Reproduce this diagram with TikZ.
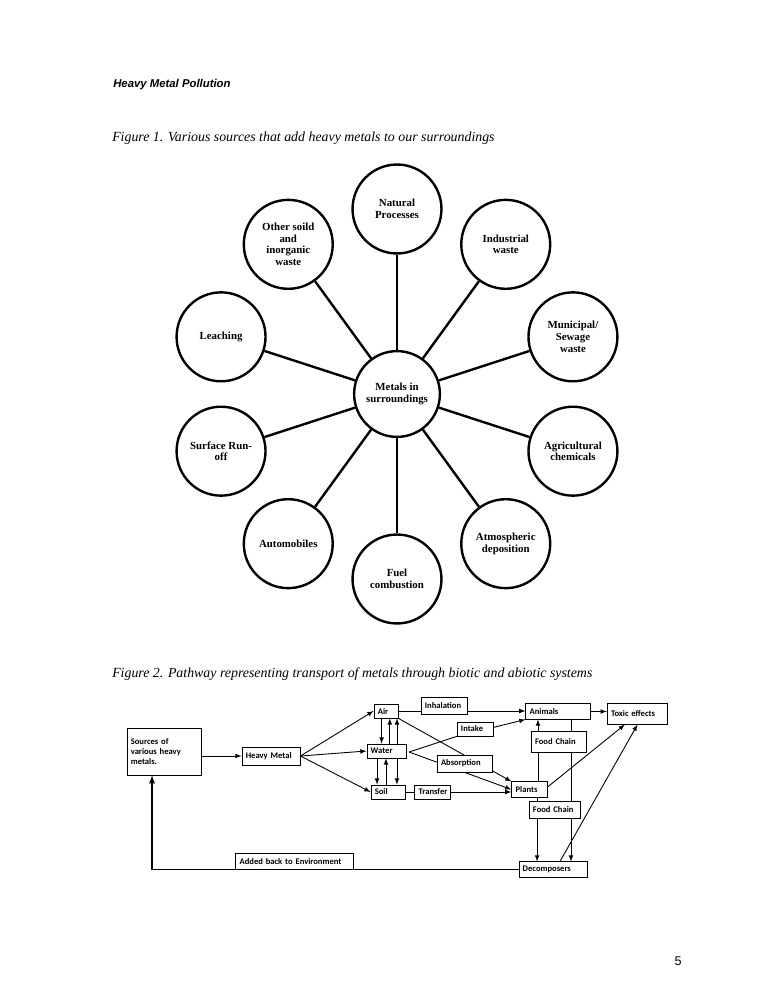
\documentclass[tikz,border=0pt]{standalone}
\usepackage{fontspec}
\setmainfont{Liberation Serif}
\newfontfamily\hdfont{Liberation Sans}
\newfontfamily\boxfont[WordSpace=0.8]{Carlito}
\usetikzlibrary{calc}
\pgfdeclarelayer{bg}
\pgfsetlayers{bg,main}
\tikzset{
  hubnode/.style={draw, circle, line width=1.9pt, minimum size=68pt, inner sep=0pt, align=center,
    font=\fontsize{8.6}{9.3}\selectfont\bfseries},
  srcnode/.style={hubnode, minimum size=70.5pt},
  spoke/.style={line width=1.9pt},
  box/.style={draw, fill=white, line width=0.7pt, inner xsep=3pt, inner ysep=0pt, align=left,
    font=\boxfont\fontsize{6.8}{7.6}\selectfont\bfseries},
  bs/.style 2 args={text width=#1, minimum height=#2},
  link/.style={line width=0.7pt},
}
\begin{document}
\begin{tikzpicture}[x=0.7927pt, y=-0.7927pt]
\useasboundingbox (0,0) rectangle (772,1000);

% headings
\node[anchor=base west, inner sep=0, font=\hdfont\fontsize{9}{11}\selectfont\bfseries\itshape] (hdr) at (113,88) {Heavy Metal Pollution};
\node[anchor=base west, inner sep=0, font=\fontsize{11}{13}\selectfont\itshape] (cap1) at (112,142) {Figure 1. Various sources that add heavy metals to our surroundings};
\node[anchor=base west, inner sep=0, font=\fontsize{11}{13}\selectfont\itshape] (cap2) at (112,677) {Figure 2. Pathway representing transport of metals through biotic and abiotic systems};
\node[anchor=base, inner sep=0, font=\hdfont\fontsize{10}{12}\selectfont] (pg) at (678,965) {5};

% figure 1
\node[hubnode] (hub) at (397,394) {Metals in\\surroundings};
\foreach \a/\txt [count=\i] in {-90/{Natural\\Processes}, -54/{Industrial\\waste}, -18/{Municipal/\\Sewage\\waste},
  18/{Agricultural\\chemicals}, 54/{Atmospheric\\deposition}, 90/{Fuel\\combustion}, 126/{Automobiles},
  162/{Surface Run-\\off}, 198/{Leaching}, 234/{Other soild\\and\\inorganic\\waste}}
  \node[srcnode] (s\i) at ($(hub)+(\a:185)$) {\txt};
\foreach \i in {1,...,10}
  \draw[spoke] (hub) -- (s\i);

% figure 2
\node[box, bs={52.6pt}{37.2pt}] (srcs) at (164,751.5) {Sources of\\various heavy\\metals.};
\node[box, bs={40pt}{14.3pt}] (hm) at (271,756) {Heavy Metal};
\node[box, bs={13pt}{11pt}] (air) at (386,711) {Air};
\node[box, bs={25pt}{11pt}] (water) at (386.5,751) {Water};
\node[box, bs={21pt}{11pt}] (soil) at (388,792) {Soil};
\node[box, bs={31pt}{14pt}] (inhal) at (444.5,706) {Inhalation};
\node[box, bs={23pt}{11pt}] (intake) at (475.5,729) {Intake};
\node[box, bs={38pt}{13.5pt}] (absorb) at (465,763.5) {Absorption};
\node[box, bs={22pt}{11pt}] (transfer) at (432.5,792) {Transfer};
\node[box, bs={45pt}{12pt}] (animals) at (558,711.5) {Animals};
\node[box, bs={42pt}{16pt}] (toxic) at (637.5,714) {Toxic effects};
\node[box, bs={38pt}{16pt}] (fc1) at (559,742) {Food Chain};
\node[box, bs={22pt}{12pt}] (plants) at (529.5,789.5) {Plants};
\node[box, bs={35pt}{13pt}] (fc2) at (555,810) {Food Chain};
\node[box, bs={48pt}{12pt}] (decomp) at (553,869.5) {Decomposers};
\node[box, bs={87pt}{13pt}, anchor=south] (added) at (294.5,870) {Added back to Environment};
\coordinate (wv) at (409,752);

\begin{pgfonlayer}{bg}
\draw[link,-latex] (srcs.east |- hm) -- (hm);
\foreach \t in {air,water,soil}
  \draw[link,-latex] (hm.east) -- (\t.west);
\draw[link,-latex] ([xshift=-3.5pt]air.south) -- ([xshift=-3.5pt]air.south |- water.north);
\draw[link,-latex] ([xshift=3pt]air.south |- water.north) -- ([xshift=3pt]air.south);
\draw[link,latex-latex] ([xshift=8.7pt]air.south) -- ([xshift=8.7pt]air.south |- soil.north);
\draw[link,-latex] ([xshift=-7.5pt]water.south) -- ([xshift=-7.5pt]water.south |- soil.north);
\draw[link,-latex] ([xshift=-0.4pt]water.south |- soil.north) -- ([xshift=-0.4pt]water.south);
\draw[link,-latex] (air.east) -- (air.east -| animals.west);
\draw[link,-latex] (wv) -- (intake.south west) -- (animals.south west);
\draw[link,-latex] (wv) -- (plants.west);
\draw[link,-latex] (air.south east) -- (plants.north west);
\draw[link,-latex] (soil.east) -- (soil.east -| plants.west);
\draw[link,-latex] ([xshift=6.7pt]plants.north) -- ([xshift=6.7pt]plants.north |- animals.south);
\draw[link,-latex] ([xshift=10.3pt]animals.south) -- ([xshift=10.3pt]animals.south |- decomp.north);
\draw[link,-latex] ([xshift=6pt]plants.south) -- ([xshift=6pt]plants.south |- decomp.north);
\draw[link,-latex] ([yshift=2pt]plants.east) -- ([xshift=-10pt]toxic.south);
\draw[link,-latex] ([xshift=5.5pt]decomp.north) -- (toxic.south);
\draw[link,-latex] (animals.east) -- (animals.east -| toxic.west);
\draw[line width=1.2pt,-latex] (decomp.west) -| ([xshift=-9.5pt]srcs.south);
\end{pgfonlayer}
\end{tikzpicture}
\end{document}
